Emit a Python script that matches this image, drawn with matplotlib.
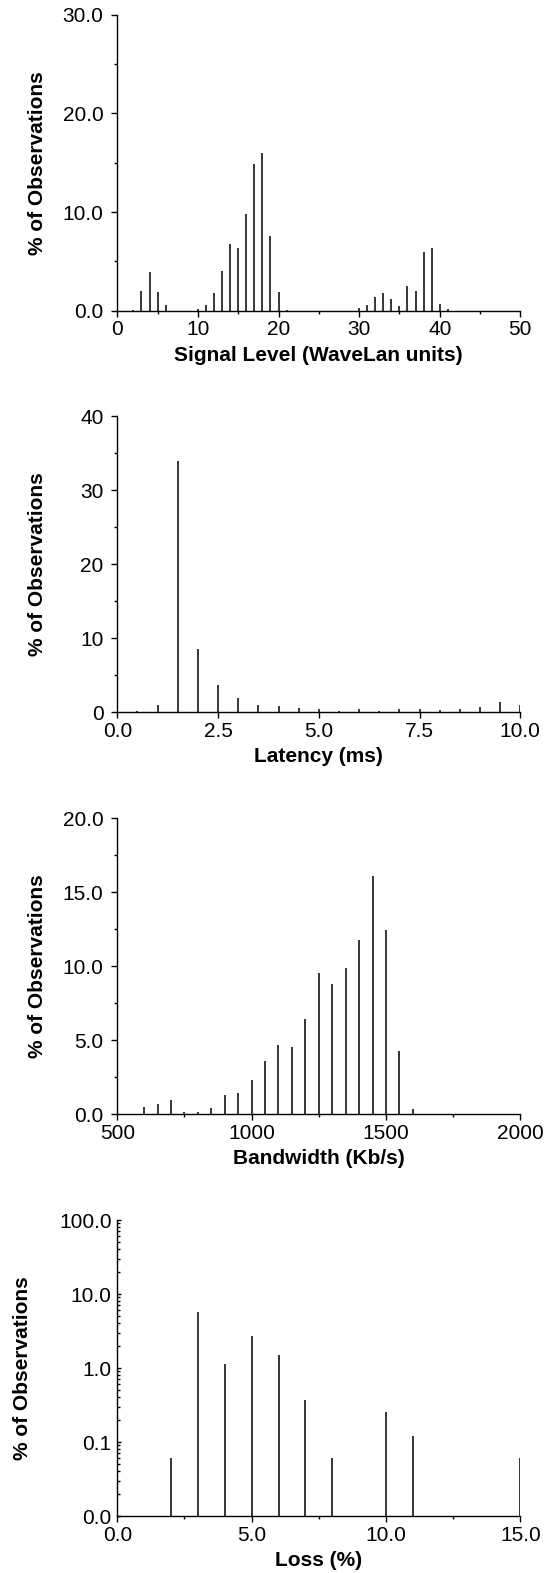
import matplotlib
matplotlib.use("Agg")
import matplotlib.pyplot as plt
from matplotlib.ticker import MultipleLocator, FuncFormatter, LogLocator, NullFormatter

plt.rcParams['font.family'] = ['Liberation Sans', 'DejaVu Sans']

# signal level histogram
signal_level = [2, 3, 4, 5, 6, 10, 11, 12, 13, 14, 15, 16, 17, 18, 19, 20, 21,
                30, 31, 32, 33, 34, 35, 36, 37, 38, 39, 40, 41]
signal_pct = [0.1, 2.0, 3.95, 1.9, 0.55, 0.15, 0.57, 1.8, 4.0, 6.8, 6.35, 9.8, 14.9, 16.0, 7.6, 1.9, 0.1,
              0.27, 0.57, 1.35, 1.75, 1.2, 0.47, 2.5, 2.0, 5.95, 6.4, 0.64, 0.2]

# latency histogram
latency_ms = [0.5, 1.0, 1.5, 2.0, 2.5, 3.0, 3.5, 4.0, 4.5, 5.0,
              5.5, 6.0, 6.5, 7.0, 7.5, 8.0, 8.5, 9.0, 9.5, 10.0]
latency_pct = [0.2, 1.0, 34.0, 8.56, 3.7, 1.94, 1.0, 0.86, 0.54, 0.5,
               0.22, 0.4, 0.13, 0.4, 0.4, 0.27, 0.4, 0.77, 1.35, 1.0]

# bandwidth histogram
bandwidth = [600, 650, 700, 750, 800, 850, 900, 950, 1000, 1050, 1100,
             1150, 1200, 1250, 1300, 1350, 1400, 1450, 1500, 1550, 1600]
bandwidth_pct = [0.5, 0.68, 0.92, 0.14, 0.11, 0.43, 1.3, 1.42, 2.27, 3.56, 4.66,
                 4.53, 6.4, 9.55, 8.8, 9.84, 11.76, 16.1, 12.4, 4.23, 0.36]

# loss histogram (log scale)
loss = [2, 3, 4, 5, 6, 7, 8, 10, 11, 15]
loss_pct = [0.061, 5.65, 1.13, 2.73, 1.5, 0.373, 0.061, 0.254, 0.12, 0.061]

FS = 15
W, H = 557, 1573
fig = plt.figure(figsize=(W / 100, H / 100), dpi=100)

left = 117.3 / W
width = (520.3 - 117.3) / W
height = 296 / H
bottoms_px = [310.7, 712.3, 1114.0, 1516.0]


def style_axes(ax):
    for s in ['top', 'right']:
        ax.spines[s].set_visible(False)
    for s in ['left', 'bottom']:
        ax.spines[s].set_linewidth(1.0)
    ax.tick_params(which='major', direction='out', length=4, width=1.0, labelsize=FS)
    ax.tick_params(which='minor', direction='out', length=2, width=1.0)
    ax.tick_params(axis='y', which='major', pad=6)
    ax.tick_params(axis='x', which='major', pad=3)


def stems(ax, x, y, base=0):
    ax.vlines(x, base, y, colors='black', linewidth=1.1)


axes = []
for b in bottoms_px:
    ax = fig.add_axes([left, 1 - b / H, width, height])
    style_axes(ax)
    axes.append(ax)

# panel 1
ax = axes[0]
stems(ax, signal_level, signal_pct)
ax.set_xlim(0, 50)
ax.set_ylim(0, 30)
ax.xaxis.set_major_locator(MultipleLocator(10))
ax.xaxis.set_minor_locator(MultipleLocator(5))
ax.yaxis.set_major_locator(MultipleLocator(10))
ax.yaxis.set_minor_locator(MultipleLocator(5))
ax.xaxis.set_major_formatter(FuncFormatter(lambda v, p: f"{v:.0f}"))
ax.yaxis.set_major_formatter(FuncFormatter(lambda v, p: f"{v:.1f}"))
ax.set_xlabel('Signal Level (WaveLan units)', fontsize=FS, fontweight='bold')

# panel 2
ax = axes[1]
stems(ax, latency_ms, latency_pct)
ax.set_xlim(0, 10)
ax.set_ylim(0, 40)
ax.xaxis.set_major_locator(MultipleLocator(2.5))
ax.yaxis.set_major_locator(MultipleLocator(10))
ax.yaxis.set_minor_locator(MultipleLocator(5))
ax.xaxis.set_major_formatter(FuncFormatter(lambda v, p: f"{v:.1f}"))
ax.yaxis.set_major_formatter(FuncFormatter(lambda v, p: f"{v:.0f}"))
ax.set_xlabel('Latency (ms)', fontsize=FS, fontweight='bold')

# panel 3
ax = axes[2]
stems(ax, bandwidth, bandwidth_pct)
ax.set_xlim(500, 2000)
ax.set_ylim(0, 20)
ax.xaxis.set_major_locator(MultipleLocator(500))
ax.xaxis.set_minor_locator(MultipleLocator(250))
ax.yaxis.set_major_locator(MultipleLocator(5))
ax.yaxis.set_minor_locator(MultipleLocator(2.5))
ax.xaxis.set_major_formatter(FuncFormatter(lambda v, p: f"{v:.0f}"))
ax.yaxis.set_major_formatter(FuncFormatter(lambda v, p: f"{v:.1f}"))
ax.set_xlabel('Bandwidth (Kb/s)', fontsize=FS, fontweight='bold')

# panel 4
ax = axes[3]
ax.set_yscale('log')
stems(ax, loss, loss_pct, base=0.01)
ax.set_xlim(0, 15)
ax.set_ylim(0.01, 100)
ax.xaxis.set_major_locator(MultipleLocator(5))
ax.xaxis.set_minor_locator(MultipleLocator(2.5))
ax.yaxis.set_major_locator(LogLocator(base=10, numticks=10))
ax.yaxis.set_minor_locator(LogLocator(base=10, subs=range(2, 10), numticks=10))
ax.yaxis.set_minor_formatter(NullFormatter())
ax.xaxis.set_major_formatter(FuncFormatter(lambda v, p: f"{v:.1f}"))
ax.yaxis.set_major_formatter(FuncFormatter(lambda v, p: f"{v:.1f}"))
ax.tick_params(axis='y', which='major', direction='in', length=3, pad=4)
ax.tick_params(axis='y', which='minor', direction='in', length=2)
ax.set_xlabel('Loss (%)', fontsize=FS, fontweight='bold')

for i, ax in enumerate(axes):
    ax.set_ylabel('% of Observations', fontsize=FS, fontweight='bold')
    ax.yaxis.set_label_coords(-0.212 if i == 3 else -0.175, 0.5)
    ax.xaxis.set_label_coords(0.5, -0.118)
    ax.xaxis.label.set_va('top')

fig.savefig('out.png', dpi=100)
